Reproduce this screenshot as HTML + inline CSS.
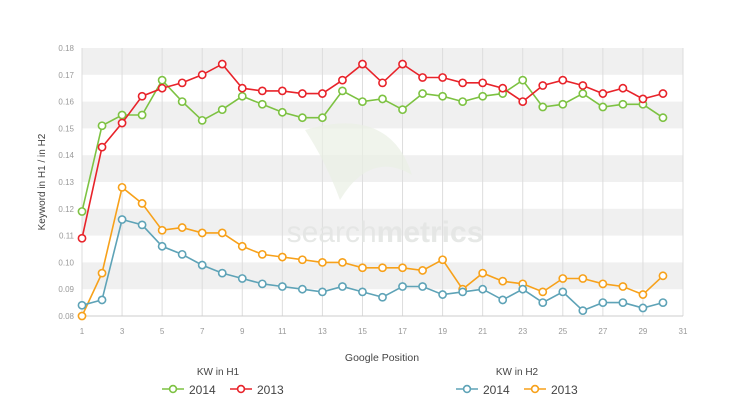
<!DOCTYPE html>
<html><head><meta charset="utf-8"><style>
html,body{margin:0;padding:0;background:#fff;width:738px;height:402px;overflow:hidden}
svg{display:block;font-family:"Liberation Sans",sans-serif}
</style></head><body>
<svg id="c" width="738" height="402" xmlns="http://www.w3.org/2000/svg">
<g id="g"></g>
<text transform="translate(45,182) rotate(-90)" font-size="10" fill="#444" text-anchor="middle">Keyword in H1 / in H2</text>
<text x="382" y="361" font-size="10.5" fill="#444" text-anchor="middle">Google Position</text>
<text x="218" y="375" font-size="10" fill="#444" text-anchor="middle">KW in H1</text>
<text x="517" y="375" font-size="10" fill="#444" text-anchor="middle">KW in H2</text>
</svg>
<script>
var g=document.getElementById('g'),s='';
function X(v){return 82+(v-1)*601/30}
function Y(v){return 316-(v-0.08)*2680}
[0.17,0.15,0.13,0.11,0.09].forEach(function(v){s+='<rect x="82" y="'+Y(v+0.01)+'" width="601" height="26.8" fill="#f0f0f0"/>'});
for(var i=1;i<=31;i+=2){s+='<line x1="'+X(i)+'" y1="48" x2="'+X(i)+'" y2="316" stroke="#ddd" stroke-width="1"/>';s+='<text x="'+X(i)+'" y="334" font-size="8" fill="#999" text-anchor="middle">'+i+'</text>';}
s+='<line x1="82" y1="316" x2="683" y2="316" stroke="#ccc"/>';
s+='<path d="M305 130 Q390 105 412 175 Q370 150 340 200 Q325 160 305 130Z" fill="#e9f0e4" opacity="0.7"/>';
s+='<text x="385" y="242" font-size="30" fill="#e4e6e4" text-anchor="middle" opacity="0.9">search<tspan font-weight="bold">metrics</tspan></text>';
for(var k=0;k<=10;k++){var v=0.08+k*0.01;s+='<text x="74" y="'+(Y(v)+3)+'" font-size="8" fill="#999" text-anchor="end">'+v.toFixed(2)+'</text>';}
var D=[
['#7dc242',[.119,.151,.155,.155,.168,.160,.153,.157,.162,.159,.156,.154,.154,.164,.160,.161,.157,.163,.162,.160,.162,.163,.168,.158,.159,.163,.158,.159,.159,.154]],
['#e8232a',[.109,.143,.152,.162,.165,.167,.170,.174,.165,.164,.164,.163,.163,.168,.174,.167,.174,.169,.169,.167,.167,.165,.160,.166,.168,.166,.163,.165,.161,.163]],
['#f7a11a',[.080,.096,.128,.122,.112,.113,.111,.111,.106,.103,.102,.101,.100,.100,.098,.098,.098,.097,.101,.090,.096,.093,.092,.089,.094,.094,.092,.091,.088,.095]],
['#5ea3b7',[.084,.086,.116,.114,.106,.103,.099,.096,.094,.092,.091,.090,.089,.091,.089,.087,.091,.091,.088,.089,.090,.086,.090,.085,.089,.082,.085,.085,.083,.085]]];
D.forEach(function(d){var p=d[1].map(function(v,i){return X(i+1).toFixed(1)+','+Y(v).toFixed(1)}).join(' ');
s+='<polyline points="'+p+'" fill="none" stroke="'+d[0]+'" stroke-width="1.6"/>';
d[1].forEach(function(v,i){s+='<circle cx="'+X(i+1)+'" cy="'+Y(v)+'" r="3.6" fill="#fff" stroke="'+d[0]+'" stroke-width="1.6"/>'});});
function L(x,c,t){s+='<line x1="'+x+'" y1="389" x2="'+(x+22)+'" y2="389" stroke="'+c+'" stroke-width="1.6"/><circle cx="'+(x+11)+'" cy="389" r="3.4" fill="#fff" stroke="'+c+'" stroke-width="1.6"/><text x="'+(x+27)+'" y="394" font-size="12" fill="#444">'+t+'</text>'}
L(162,'#7dc242','2014');L(230,'#e8232a','2013');L(456,'#5ea3b7','2014');L(524,'#f7a11a','2013');
g.innerHTML=s;
</script>
</body></html>
